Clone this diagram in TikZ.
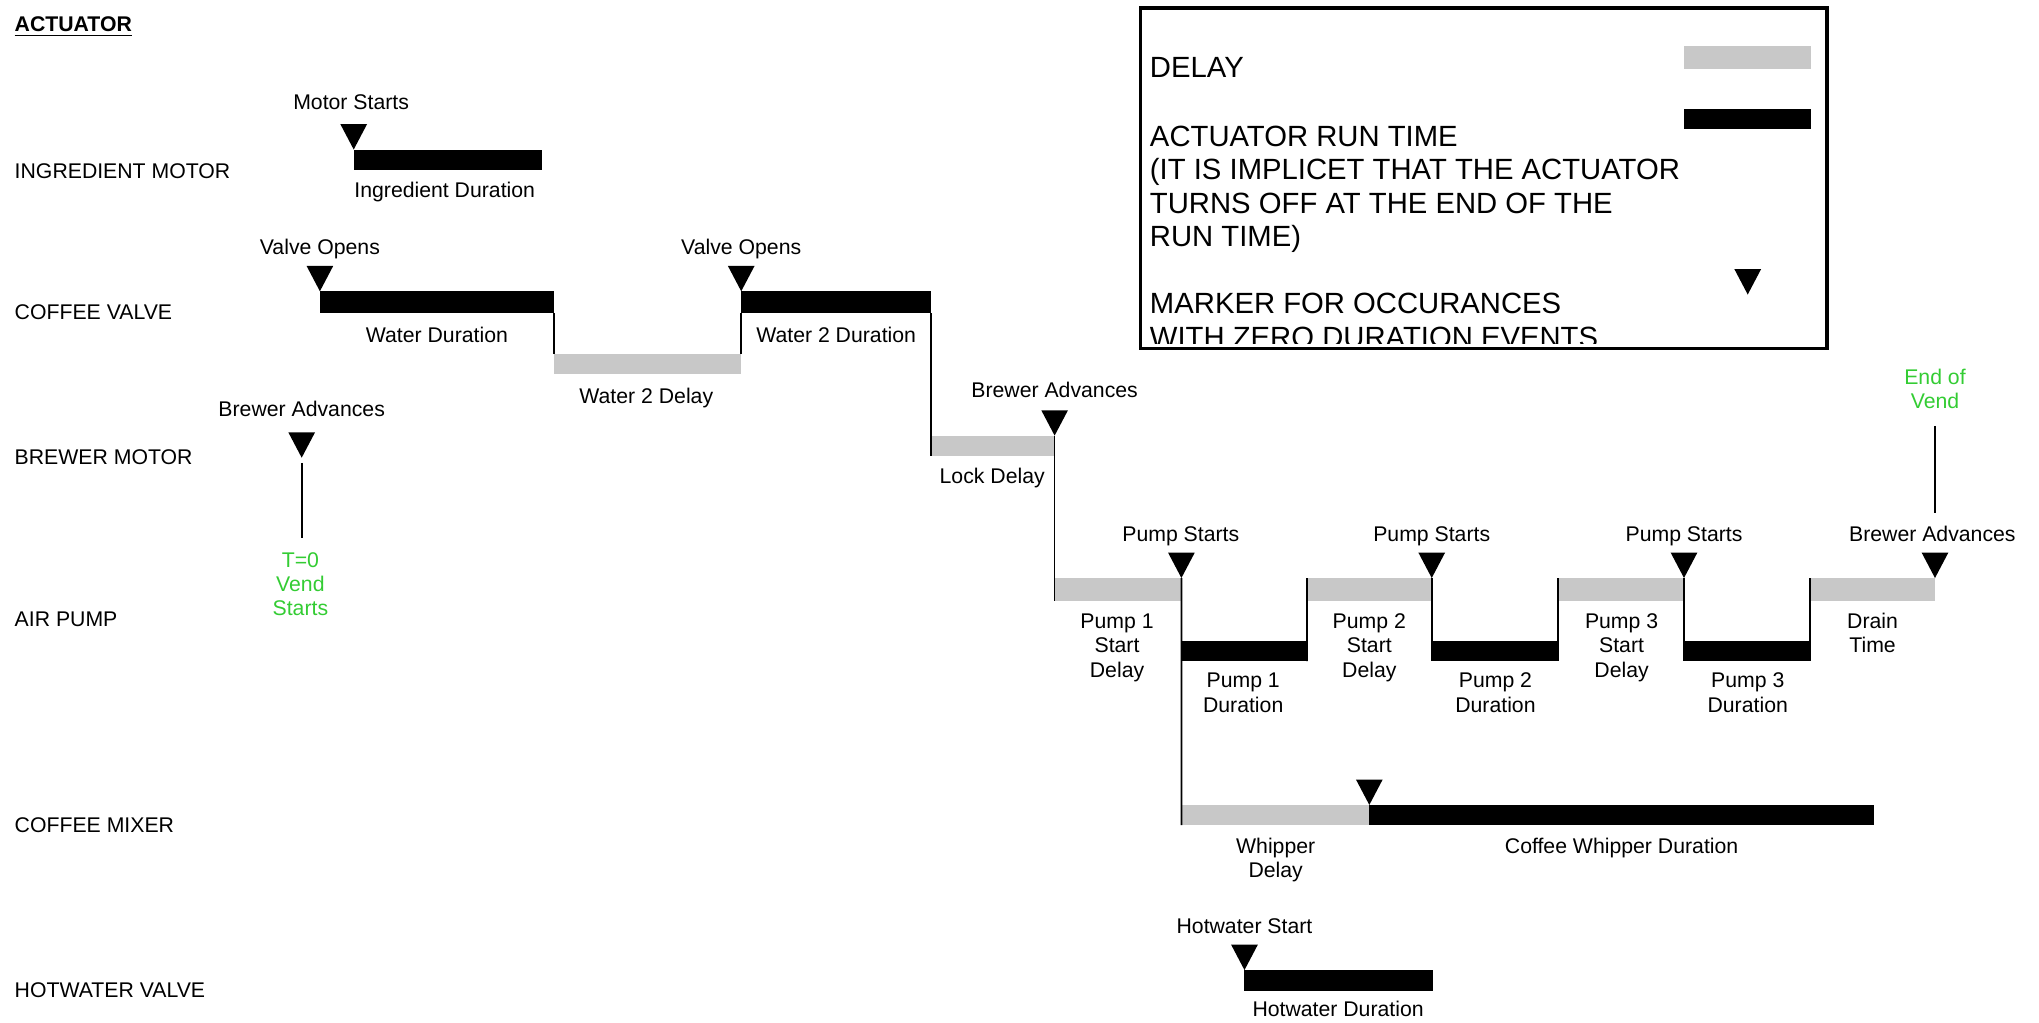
\documentclass[tikz,border=0pt]{standalone}
\usepackage{fontspec}
\setmainfont{Liberation Sans}
\definecolor{delaygray}{RGB}{200,200,200}
\definecolor{vendgreen}{RGB}{51,204,51}
\newcommand\mkbar[6]{\node[barnode, fill=#6, minimum width={(#4-#2)*0.6pt}, minimum height={(#5-#3)*0.6pt}, anchor=north west] (#1) at (#2,#3) {};}
\begin{document}
\begin{tikzpicture}[x=0.6pt, y=-0.6pt,
  lbl/.style={font=\fontsize{9.8}{11.4}\selectfont, inner sep=0pt, anchor=base, align=center},
  rowlbl/.style={font=\fontsize{9.8}{11.4}\selectfont, inner sep=0pt, anchor=base west},
  vendlbl/.style={lbl, text=vendgreen, font=\fontsize{9.8}{11.2}\selectfont},
  barnode/.style={rectangle, inner sep=0pt, outer sep=0pt, draw=none},
  conn/.style={line width=0.8pt},
  legtxt/.style={font=\fontsize{13.5}{15.36}\selectfont, inner sep=0pt, anchor=base west, align=left},
  evmark/.pic={\fill (0,0) -- (-10.25,-19.5) -- (10.25,-19.5) -- cycle;}
]
\useasboundingbox (0,0) rectangle (1568,786);

% ---------- row labels ----------
\node[rowlbl, font=\fontsize{9.8}{11.4}\selectfont\bfseries] (hdr) at (11,24.5) {\underline{ACTUATOR}};
\node[rowlbl] (r1) at (11,137) {INGREDIENT MOTOR};
\node[rowlbl] (r2) at (11,246) {COFFEE VALVE};
\node[rowlbl] (r3) at (11,357) {BREWER MOTOR};
\node[rowlbl] (r4) at (11,482) {AIR PUMP};
\node[rowlbl] (r5) at (11,640) {COFFEE MIXER};
\node[rowlbl] (r6) at (11,767) {HOTWATER VALVE};

% ---------- bars ----------
\mkbar{ing}{272}{115}{417}{130.5}{black}
\mkbar{wd}{246}{224}{426}{241}{black}
\mkbar{wdly}{426}{272}{570}{287.5}{delaygray}
\mkbar{wtd}{570}{224}{716}{241}{black}
\mkbar{lock}{716}{335}{811}{350.5}{delaygray}
\mkbar{psa}{811}{444.5}{908.5}{462}{delaygray}
\mkbar{pda}{908.5}{493}{1005}{508.5}{black}
\mkbar{psb}{1005}{444.5}{1101}{462}{delaygray}
\mkbar{pdb}{1101}{493}{1198}{508.5}{black}
\mkbar{psc}{1198}{444.5}{1295}{462}{delaygray}
\mkbar{pdc}{1295}{493}{1392}{508.5}{black}
\mkbar{drain}{1392}{444.5}{1488}{462}{delaygray}
\mkbar{whd}{908.5}{619}{1053}{634.5}{delaygray}
\mkbar{cwd}{1053}{619}{1441}{634.5}{black}
\mkbar{hwd}{957}{746}{1102}{762}{black}

% ---------- connectors ----------
\draw[conn] (wd.south east) -- (wdly.north west);
\draw[conn] (wdly.north east) -- (wtd.south west);
\draw[conn] (wtd.south east) -- (lock.south west);
\draw[conn] (lock.north east) -- (psa.south west);
\draw[conn] (psa.north east) -- (whd.south west);
\draw[conn] (psb.north west) -- (pda.south east);
\draw[conn] (psb.north east) -- (pdb.south west);
\draw[conn] (psc.north west) -- (pdb.south east);
\draw[conn] (psc.north east) -- (pdc.south west);
\draw[conn] (drain.north west) -- (pdc.south east);

\coordinate (tza) at (232,356);
\coordinate (tzb) at (232,414);
\draw[conn] (tza) -- (tzb);
\coordinate (eva) at (1488,327.5);
\coordinate (evb) at (1488,394.5);
\draw[conn] (eva) -- (evb);

% ---------- event markers ----------
\coordinate (mMotor) at (272,115);
\coordinate (mValveA) at (246,224);
\coordinate (mValveB) at (570,224);
\coordinate (mBrewA) at (232,352);
\coordinate (mBrewB) at (811,335);
\coordinate (mPumpA) at (908.5,444.5);
\coordinate (mPumpB) at (1101,444.5);
\coordinate (mPumpC) at (1295,444.5);
\coordinate (mBrewC) at (1488,444.5);
\coordinate (mWhip) at (1053,619);
\coordinate (mHot) at (957,746);
\foreach \m in {mMotor,mValveA,mValveB,mBrewA,mBrewB,mPumpA,mPumpB,mPumpC,mBrewC,mWhip,mHot}
  \pic at (\m) {evmark};

% ---------- labels (multi-line nodes: base = last line) ----------
\node[lbl] (lMotor) at (270,84) {Motor Starts};
\node[lbl] (lIng) at (342,152) {Ingredient Duration};
\node[lbl] (lValveA) at (246,196) {Valve Opens};
\node[lbl] (lValveB) at (570,196) {Valve Opens};
\node[lbl] (lWd) at (336,263) {Water Duration};
\node[lbl] (lWdly) at (497,310) {Water 2 Delay};
\node[lbl] (lWtd) at (643,263) {Water 2 Duration};
\node[lbl] (lBrewA) at (232,320) {Brewer Advances};
\node[lbl] (lBrewB) at (811,306) {Brewer Advances};
\node[lbl] (lLock) at (763,372) {Lock Delay};
\node[lbl] (lPumpA) at (908,416.5) {Pump Starts};
\node[lbl] (lPumpB) at (1101,416.5) {Pump Starts};
\node[lbl] (lPumpC) at (1295,416.5) {Pump Starts};
\node[lbl] (lBrewC) at (1486,416.5) {Brewer Advances};
\node[lbl] (lPsa) at (859,521) {Pump 1\\Start\\Delay};
\node[lbl] (lPsb) at (1053,521) {Pump 2\\Start\\Delay};
\node[lbl] (lPsc) at (1247,521) {Pump 3\\Start\\Delay};
\node[lbl] (lDrain) at (1440,502) {Drain\\Time};
\node[lbl] (lPda) at (956,548) {Pump 1\\Duration};
\node[lbl] (lPdb) at (1150,548) {Pump 2\\Duration};
\node[lbl] (lPdc) at (1344,548) {Pump 3\\Duration};
\node[vendlbl] (lTzero) at (231,473.5) {T=0\\Vend\\Starts};
\node[vendlbl] (lEnd) at (1488,314) {End of\\Vend};
\node[lbl] (lWhd) at (981,675) {Whipper\\Delay};
\node[lbl] (lCwd) at (1247,656) {Coffee Whipper Duration};
\node[lbl] (lHotS) at (957,718) {Hotwater Start};
\node[lbl] (lHotD) at (1029,782) {Hotwater Duration};

% ---------- legend ----------
\begin{scope}
  \clip (878,7) rectangle (1404,264.5);
  \node[legtxt] (gDelay) at (884,59.5) {DELAY};
  \node[legtxt] (gRun) at (884,189.6) {ACTUATOR RUN TIME\\(IT IS IMPLICET THAT THE ACTUATOR\\TURNS OFF AT THE END OF THE\\RUN TIME)};
  \node[legtxt] (gMark) at (884,267) {MARKER FOR OCCURANCES\\WITH ZERO DURATION EVENTS};
\end{scope}
\mkbar{gGray}{1295}{35.5}{1392.5}{53}{delaygray}
\mkbar{gBlack}{1295}{84}{1392.5}{99.2}{black}
\coordinate (gTri) at (1344,226.5);
\pic at (gTri) {evmark};
\node[draw, line width=1.8pt, inner sep=0pt, anchor=north west, minimum width={528*0.6pt}, minimum height={261.5*0.6pt}] (legend) at (875.5,5) {};
\end{tikzpicture}
\end{document}
